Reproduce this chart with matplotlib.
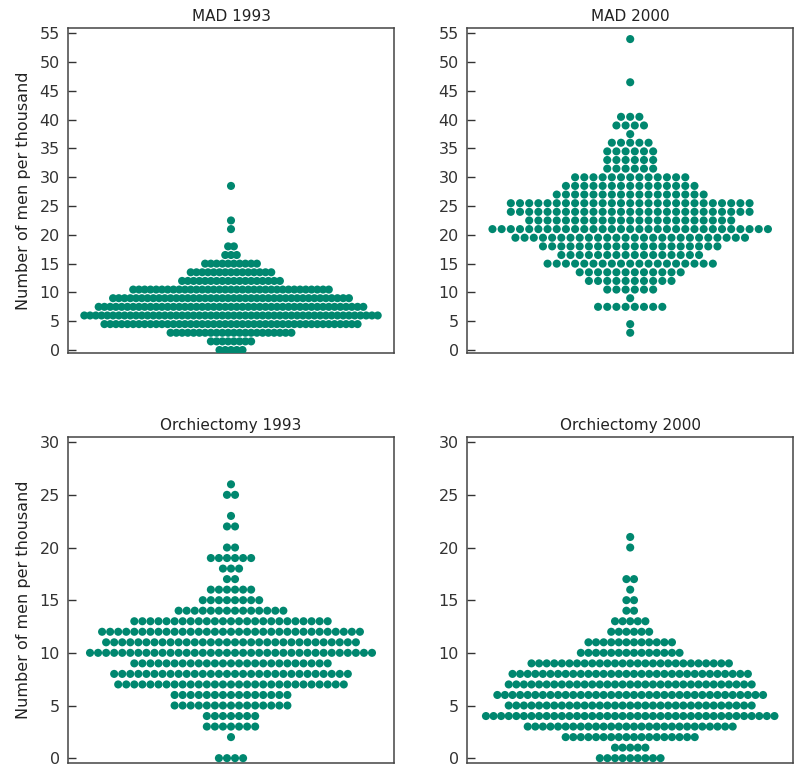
import numpy as np
import matplotlib
matplotlib.use("Agg")
import matplotlib.pyplot as plt

# rate levels (men per thousand) and number of regions at each level
mad93_levels = [0, 1.5, 3, 4.5, 6, 7.5, 9, 10.5, 12, 13.5, 15, 16.5, 18, 21, 22.5, 28.5]
mad93_counts = [5, 8, 22, 45, 52, 47, 42, 35, 18, 15, 10, 3, 2, 1, 1, 1]

mad00_levels = [3, 4.5, 7.5, 9, 10.5, 12, 13.5, 15, 16.5, 18, 19.5, 21, 22.5, 24, 25.5,
                27, 28.5, 30, 31.5, 33, 34.5, 36, 37.5, 39, 40.5, 46.5, 54]
mad00_counts = [1, 1, 8, 1, 6, 10, 12, 19, 16, 20, 26, 31, 23, 27, 27,
                17, 15, 13, 6, 6, 6, 5, 1, 4, 3, 1, 1]

orch93_levels = [0, 2, 3, 4, 5, 6, 7, 8, 9, 10, 11, 12, 13, 14, 15, 16, 17, 18, 19, 20, 22, 23, 25, 26]
orch93_counts = [4, 1, 7, 7, 15, 15, 29, 30, 25, 36, 32, 33, 25, 14, 8, 6, 2, 3, 6, 2, 2, 1, 2, 1]

orch00_levels = [0, 1, 2, 3, 4, 5, 6, 7, 8, 9, 10, 11, 12, 13, 14, 15, 16, 17, 20, 21]
orch00_counts = [9, 5, 18, 28, 39, 33, 36, 33, 32, 27, 14, 12, 6, 5, 2, 2, 1, 2, 1, 1]

titles = ["MAD 1993", "MAD 2000", "Orchiectomy 1993", "Orchiectomy 2000"]

color = "#00876f"


def swarm(ax, levels, counts, half_span):
    # spread each row symmetrically, spacing set by the widest row
    step = 2 * half_span / (max(counts) - 1)
    xs, ys = [], []
    for lev, n in zip(levels, counts):
        x = (np.arange(n) - (n - 1) / 2) * step
        xs.extend(x)
        ys.extend([lev] * n)
    ax.scatter(xs, ys, s=34, color=color, edgecolors="none", zorder=3)


fig = plt.figure(figsize=(8, 7.71), dpi=100)
plt.rcParams["font.family"] = ["DejaVu Sans"]

w, h = 0.4075, 0.421
axes = [
    fig.add_axes([0.085, 0.5425, w, h]),
    fig.add_axes([0.584, 0.5425, w, h]),
    fig.add_axes([0.085, 0.0105, w, 0.4228]),
    fig.add_axes([0.584, 0.0105, w, 0.4228]),
]

data = [
    (mad93_levels, mad93_counts, 0.90),
    (mad00_levels, mad00_counts, 0.845),
    (orch93_levels, orch93_counts, 0.865),
    (orch00_levels, orch00_counts, 0.885),
]

for i, (ax, (lev, cnt, hs)) in enumerate(zip(axes, data)):
    swarm(ax, lev, cnt, hs)
    ax.set_xlim(-1, 1)
    if i < 2:
        ax.set_ylim(-0.47, 55.9)
        ax.set_yticks(np.arange(0, 56, 5))
    else:
        ax.set_ylim(-0.45, 30.5)
        ax.set_yticks(np.arange(0, 31, 5))
    ax.set_xticks([])
    ax.tick_params(axis="y", direction="in", length=6, width=1, labelsize=11.5,
                   colors="#333333", pad=6)
    for sp in ax.spines.values():
        sp.set_color("#444444")
        sp.set_linewidth(1.1)
    ax.set_title(titles[i], fontsize=11, color="#222222", pad=5)
    if i % 2 == 0:
        ax.set_ylabel("Number of men per thousand", fontsize=11.5, color="#222222", labelpad=6)

fig.savefig("out.png", dpi=100)
